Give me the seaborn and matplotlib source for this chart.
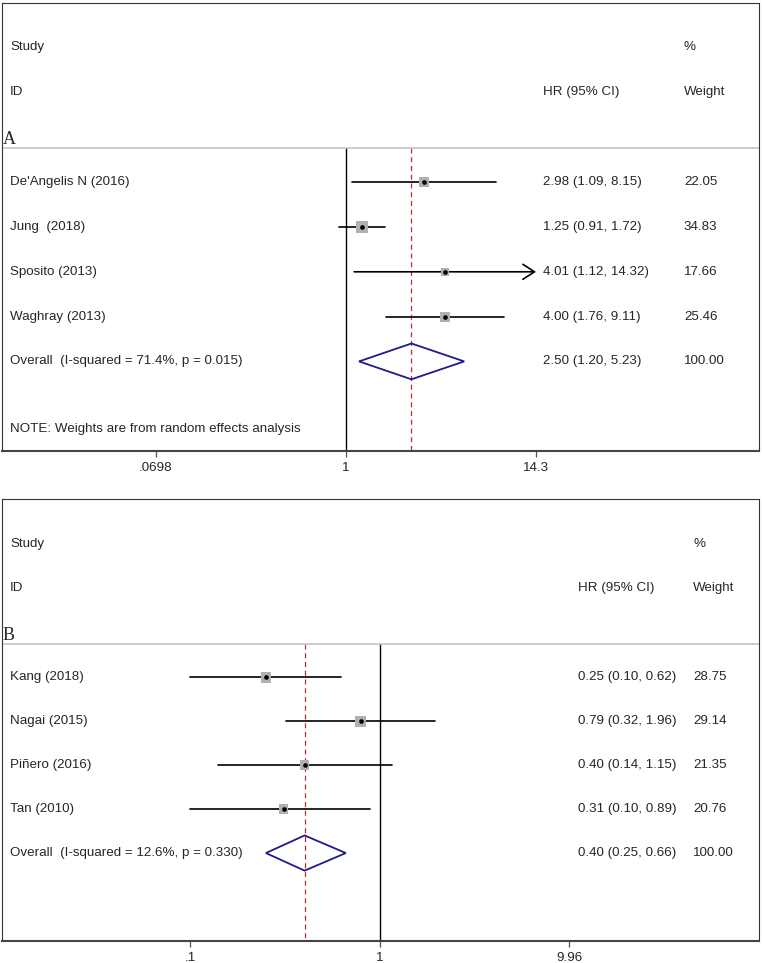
import numpy as np
import matplotlib
matplotlib.use('Agg')
import matplotlib.pyplot as plt
import seaborn as sns
import pandas as pd

# ── DATA ───────────────────────────────────────────────
a_studies = ["De'Angelis N (2016)", "Jung  (2018)", "Sposito (2013)", "Waghray (2013)"]
a_hr = [2.98, 1.25, 4.01, 4.00]
a_lo = [1.09, 0.91, 1.12, 1.76]
a_hi = [8.15, 1.72, 14.32, 9.11]
a_weight = [22.05, 34.83, 17.66, 25.46]
a_overall = [2.50, 1.20, 5.23]
a_overall_label = "Overall  (I-squared = 71.4%, p = 0.015)"
a_ticks = [0.0698, 1, 14.3]
a_ticklabels = [".0698", "1", "14.3"]

b_studies = ["Kang (2018)", "Nagai (2015)", "Piñero (2016)", "Tan (2010)"]
b_hr = [0.25, 0.79, 0.40, 0.31]
b_lo = [0.10, 0.32, 0.14, 0.10]
b_hi = [0.62, 1.96, 1.15, 0.89]
b_weight = [28.75, 29.14, 21.35, 20.76]
b_overall = [0.40, 0.25, 0.66]
b_overall_label = "Overall  (I-squared = 12.6%, p = 0.330)"
b_ticks = [0.1, 1, 9.96]
b_ticklabels = [".1", "1", "9.96"]

note_text = "NOTE: Weights are from random effects analysis"

# ── STYLE ──────────────────────────────────────────────
sns.set_theme(style='white')
plt.rcParams['font.family'] = ['Liberation Sans', 'DejaVu Sans']
FS = 9.6
W, H = 762, 963
fig = plt.figure(figsize=(W / 100, H / 100), dpi=100)
fig.patch.set_facecolor('white')


def draw_panel(box, one_px, decade_px, ylim, studies, hr, lo, hi, weight, overall,
               overall_label, ticks, ticklabels, letter, hr_x, wt_x, note=None):
    left, top, right, bottom = box
    ax = fig.add_axes([left / W, 1 - bottom / H, (right - left) / W, (bottom - top) / H])
    ax.set_xscale('log')
    ax.set_xlim(10 ** ((left - one_px) / decade_px), 10 ** ((right - one_px) / decade_px))
    ax.set_ylim(*ylim)
    n = len(studies)
    rows = np.arange(n)
    sep = -0.76
    xmax_tick = max(ticks)

    # reference lines
    ax.plot([1, 1], [sep, ylim[0]], color='black', lw=1.0, zorder=1)
    ax.plot([overall[0]] * 2, [sep, ylim[0]], color='#b8312f', lw=0.9,
            dashes=(4, 3), zorder=1)
    ax.axhline(sep, color='#c4c4c4', lw=1.2, zorder=1)

    # confidence intervals
    for r, l, h in zip(rows, lo, hi):
        if h > xmax_tick:
            ax.annotate('', xy=(xmax_tick, r), xytext=(l, r),
                        arrowprops=dict(arrowstyle='->,head_length=0.7,head_width=0.45',
                                        lw=1.2, color='black', shrinkA=0, shrinkB=0))
        else:
            ax.plot([l, h], [r, r], color='black', lw=1.2, zorder=2)

    # weight boxes + point estimates
    df = pd.DataFrame({'hr': hr, 'row': rows, 'w': weight})
    side_pt = 1.5 * np.sqrt(df['w']) * 0.72
    ax.scatter(df['hr'], df['row'], marker='s', s=1.8 * side_pt ** 2, color='#b0b0b0',
               edgecolor='none', zorder=3)
    sns.scatterplot(data=df, x='hr', y='row', ax=ax, marker='o', s=9,
                    color='black', edgecolor='black', linewidth=0.3, zorder=4,
                    legend=False)

    # pooled diamond
    est, dlo, dhi = overall
    ax.fill([dlo, est, dhi, est, dlo], [n, n - 0.4, n, n + 0.4, n],
            facecolor='none', edgecolor='#1c1c8a', lw=1.3, zorder=3)

    # text columns
    tr = ax.get_yaxis_transform()
    lx = (10 - left) / (right - left)
    hx = (hr_x - left) / (right - left)
    wx = (wt_x - left) / (right - left)
    ax.text(lx, -3.02, 'Study', transform=tr, fontsize=FS, va='center')
    ax.text(wx, -3.02, '%', transform=tr, fontsize=FS, va='center')
    ax.text(lx, -2.02, 'ID', transform=tr, fontsize=FS, va='center')
    ax.text(hx, -2.02, 'HR (95% CI)', transform=tr, fontsize=FS, va='center')
    ax.text(wx, -2.02, 'Weight', transform=tr, fontsize=FS, va='center')
    ax.text((3 - left) / (right - left), -0.95, letter, transform=tr,
            fontsize=13, va='center', family=['Liberation Serif', 'DejaVu Serif'])
    for r, s, e, l, h, w in zip(rows, studies, hr, lo, hi, weight):
        ax.text(lx, r, s, transform=tr, fontsize=FS, va='center')
        ax.text(hx, r, f"{e:.2f} ({l:.2f}, {h:.2f})", transform=tr, fontsize=FS, va='center')
        ax.text(wx, r, f"{w:.2f}", transform=tr, fontsize=FS, va='center')
    ax.text(lx, n, overall_label, transform=tr, fontsize=FS, va='center')
    ax.text(hx, n, f"{est:.2f} ({dlo:.2f}, {dhi:.2f})", transform=tr, fontsize=FS, va='center')
    ax.text(wx, n, "100.00", transform=tr, fontsize=FS, va='center')
    if note:
        ax.text(lx, n + 1.5, note, transform=tr, fontsize=FS, va='center')

    # axis
    ax.set_xticks(ticks)
    ax.set_xticklabels(ticklabels, fontsize=FS)
    ax.minorticks_off()
    ax.set_yticks([])
    ax.set_xlabel('')
    ax.set_ylabel('')
    ax.tick_params(axis='x', bottom=True, direction='out', length=4.5, width=0.9,
                   color='#555555', pad=3.5)
    for side in ['left', 'top', 'right']:
        ax.spines[side].set_color('#333333')
        ax.spines[side].set_linewidth(0.8)
        ax.spines[side].set_visible(True)
    ax.spines['bottom'].set_color('#444444')
    ax.spines['bottom'].set_linewidth(1.5)
    return ax


draw_panel((2, 3, 759, 451), 346, 164.5, (6.0, -4.0), a_studies, a_hr, a_lo, a_hi,
           a_weight, a_overall, a_overall_label, a_ticks, a_ticklabels, 'A',
           543, 684, note=note_text)
draw_panel((2, 499, 759, 941), 380, 189.5, (6.0, -4.05), b_studies, b_hr, b_lo, b_hi,
           b_weight, b_overall, b_overall_label, b_ticks, b_ticklabels, 'B',
           578, 693)

fig.savefig('out.png', dpi=100, facecolor='white')
